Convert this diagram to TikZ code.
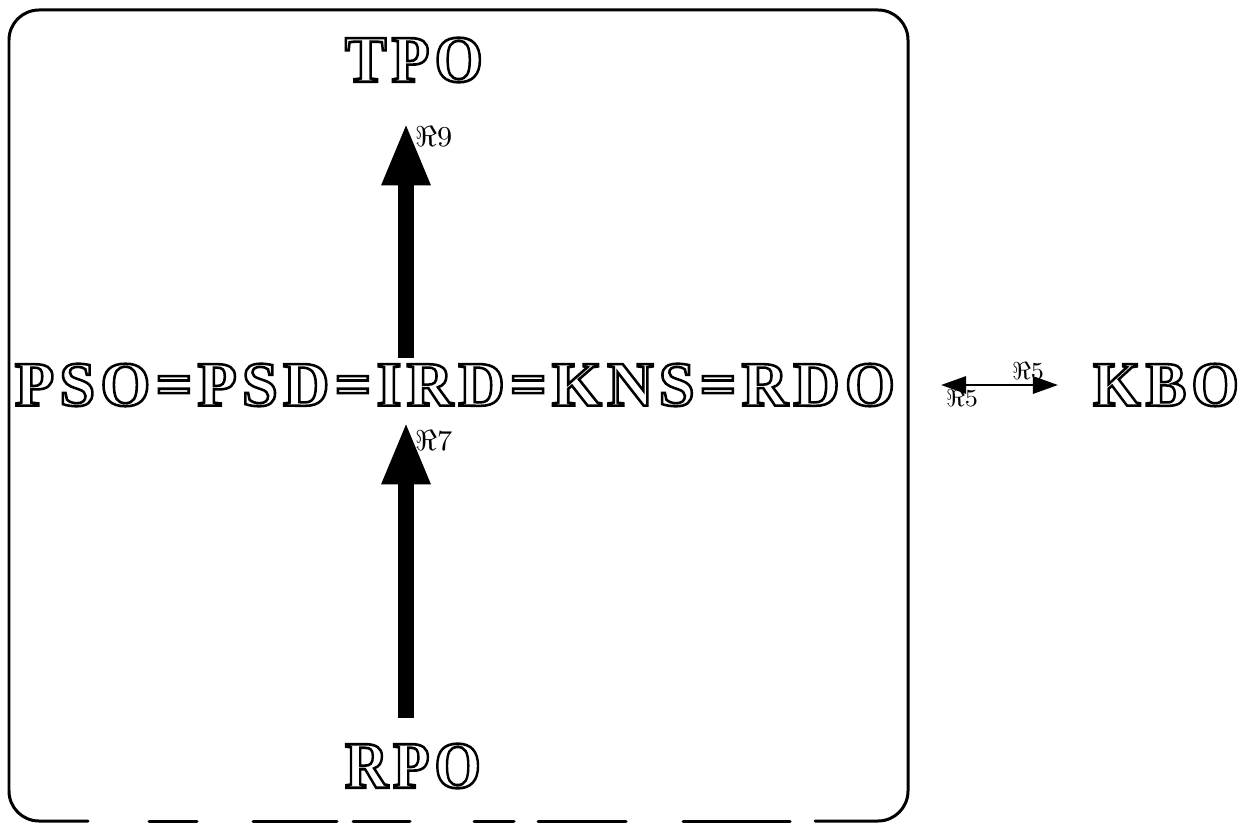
\documentclass[tikz,border=0pt]{standalone}
\usepackage{fontspec}
\setmainfont{Liberation Serif}
\usetikzlibrary{arrows.meta}
\newlength\pp \setlength\pp{0.05cm}
\newcommand\engr[4]{\resizebox{#1\pp}{#2\pp}{\fontsize{10}{12}\selectfont\bfseries\addfontfeatures{LetterSpace=#3}\special{pdf:literal direct 1 Tr 0.4 w}#4\special{pdf:literal direct 0 Tr}}}
\newcommand\lbl[3]{\resizebox{#1\pp}{#2\pp}{$#3$}}
\tikzset{
  word/.style={inner sep=0pt, anchor=center},
  tag/.style={inner sep=0pt},
  frame/.style={line width=0.15cm, line cap=round},
  bigarrow/.style={line width=0.8cm, -{Triangle[length=3cm 0, width=2.5cm 0, line width=0pt 0]}},
  thinarrow/.style={line width=0.12cm, {Triangle[length=1.25cm 0, width=0.9cm 0, line width=0pt 0]}-{Triangle[length=1.25cm 0, width=0.9cm 0, line width=0pt 0]}}
}
\begin{document}
\begin{tikzpicture}[x=0.05cm, y=-0.05cm]
\useasboundingbox (0,0) rectangle (1245,825);
% frame
\draw[frame, rounded corners=1.5cm] (88,821) -- (9,821) -- (9,10) -- (908,10) -- (908,821) -- (815,821);
\foreach \a/\b in {149/197, 253/337, 353/410, 474/514, 538/626, 683/790}
  \draw[frame] (\a,821) -- (\b,821);
% texts
\node[word] (tpo) at (414,60) {\engr{138}{44}{8}{TPO}};
\node[word] (row) at (455,385) {\engr{880}{42}{8}{PSO=PSD=IRD=KNS=RDO}};
\node[word] (kbo) at (1166,385) {\engr{146}{42}{8}{KBO}};
\node[word] (rpo) at (413,766) {\engr{136}{44}{8}{RPO}};
\coordinate (ax) at (406,0);
% arrows
\draw[bigarrow, shorten <=0.3cm, shorten >=2.15cm] (row.north -| ax) -- (tpo.south -| ax);
\draw[bigarrow, shorten <=1.3cm, shorten >=0.9cm] (rpo.north -| ax) -- (row.south -| ax);
\draw[thinarrow, shorten <=2.3cm, shorten >=1.75cm] (row.east) -- (kbo.west);
% labels
\node[tag, anchor=west] (l9) at (415,136) {\lbl{37}{20}{\Re9}};
\node[tag, anchor=west] (l7) at (415,440) {\lbl{37}{20}{\Re7}};
\node[tag] (l5a) at (1028,371) {\lbl{32}{17}{\Re5}};
\node[tag] (l5b) at (962,398) {\lbl{32}{17}{\Re5}};
\end{tikzpicture}
\end{document}
